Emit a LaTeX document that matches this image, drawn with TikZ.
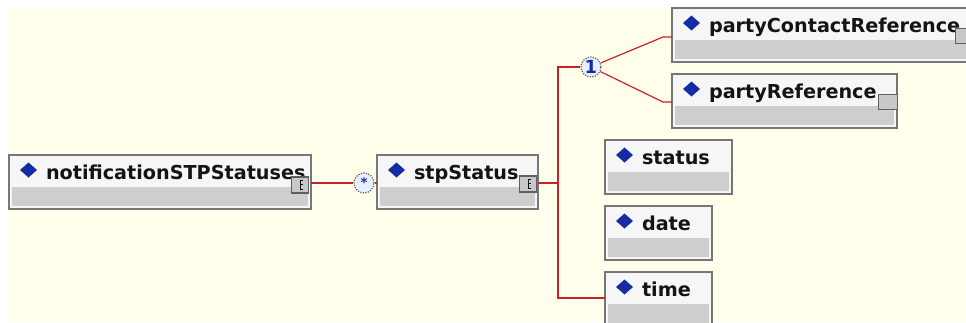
\documentclass[tikz,border=0pt]{standalone}
\usepackage{fontspec}
\setmainfont{DejaVu Sans}
\usetikzlibrary{calc}

\definecolor{paper}{RGB}{255,255,235}
\definecolor{boxline}{RGB}{118,118,118}
\definecolor{headfill}{RGB}{246,246,246}
\definecolor{bandfill}{RGB}{206,206,206}
\definecolor{diamblue}{RGB}{22,44,166}
\definecolor{connred}{RGB}{198,36,36}
\definecolor{ringfill}{RGB}{234,239,255}
\definecolor{iconline}{RGB}{95,95,95}
\definecolor{iconfill}{RGB}{200,200,200}
\definecolor{inktext}{RGB}{20,20,20}

\tikzset{every picture/.style={line width=0.75pt}}
\tikzset{
  elbox/.style={draw=boxline, line width=1.5pt, fill=headfill, inner sep=0pt, outer sep=0pt,
    anchor=north west, text width=#1, align=left, text height=18pt, text depth=22.5pt,
    font=\fontsize{14.4}{17}\selectfont\bfseries, text=inktext},
  expicon/.style={draw=iconline, fill=iconfill, line width=0.9pt,
    minimum width=12.75pt, minimum height=12pt, inner sep=0pt},
  plainicon/.style={draw=iconline, fill=iconfill, line width=0.9pt,
    minimum width=14.25pt, minimum height=11.25pt, inner sep=0pt},
  card/.style={circle, draw=iconline, densely dotted, line width=0.9pt, fill=ringfill,
    minimum size=15pt, inner sep=0pt, text=diamblue},
  conn/.style={draw=connred, line width=1.1pt},
}

\begin{document}
\begin{tikzpicture}[x=0.75pt,y=0.75pt,yscale=-1,xscale=1]
\useasboundingbox (0,0) rectangle (966,322);
\fill[white] (0,0) rectangle (966,322);
\fill[paper] (8,8) rectangle (966,322);

%Element boxes
\node[elbox=226.5pt] (ncsts) at (9,155) {\hspace*{27.75pt}notificationSTPStatuses};
\node[elbox=120.75pt] (stp) at (377,155) {\hspace*{27.75pt}stpStatus};
\node[elbox=226.5pt] (pcr) at (672,8) {\hspace*{27.75pt}partyContactReference};
\node[elbox=168.75pt] (pref) at (672,74) {\hspace*{27.75pt}partyReference};
\node[elbox=95.25pt] (status) at (605,140) {\hspace*{27.75pt}status};
\node[elbox=80.25pt] (date) at (605,206) {\hspace*{27.75pt}date};
\node[elbox=80.25pt] (time) at (605,272) {\hspace*{27.75pt}time};

%Grey bands and blue diamonds
\foreach \b in {ncsts,stp,pcr,pref,status,date,time}{
  \fill[bandfill] ($(\b.north west)+(3,32)$) rectangle ($(\b.south east)+(-3,-3)$);
  \fill[diamblue] ($(\b.north west)+(11,15)$) -- ++(8.5,-7.5) -- ++(8.5,7.5) -- ++(-8.5,7.5) -- cycle;
}

%Icons
\node[expicon] (ncsts-ic) at ($(ncsts.north east)+(-11,30)$) {};
\node[expicon] (stp-ic) at ($(stp.north east)+(-10,29)$) {};
\node[plainicon] (pcr-ic) at ($(pcr.north east)+(-9,28)$) {};
\node[plainicon] (pref-ic) at ($(pref.north east)+(-9,28)$) {};
\foreach \i in {ncsts-ic,stp-ic}{
  \draw[line width=0.6pt, inktext]
    ($(\i.center)+(3,-5)$) -- ++(-3,0) -- ++(0,9) -- ++(3,0)
    ($(\i.center)+(0,-1)$) -- ++(3,0);
}

%Cardinality rings
\node[card, font=\fontsize{10}{10}\selectfont\bfseries] (mstar) at (364,183) {*};
\node[card, font=\fontsize{13.5}{13.5}\selectfont\bfseries] (mone) at (591,67) {1};
\coordinate (trunk) at (558,183);

%Connectors
\draw[conn] ($(ncsts.north east)+(0,28)$) -- (mstar);
\draw[conn] (mstar) -- ($(stp.north west)+(0,28)$);
\draw[conn] ($(stp.north east)+(0,28)$) -- (trunk);
\draw[conn] (trunk) |- (mone);
\draw[conn] (trunk) |- ($(time.north west)+(0,26)$);
\draw[conn, line width=0.9pt] (mone) -- ($(pcr.north west)+(-9,29)$) -- ($(pcr.north west)+(0,29)$);
\draw[conn, line width=0.9pt] (mone) -- ($(pref.north west)+(-9,28)$) -- ($(pref.north west)+(0,28)$);
\end{tikzpicture}
\end{document}
